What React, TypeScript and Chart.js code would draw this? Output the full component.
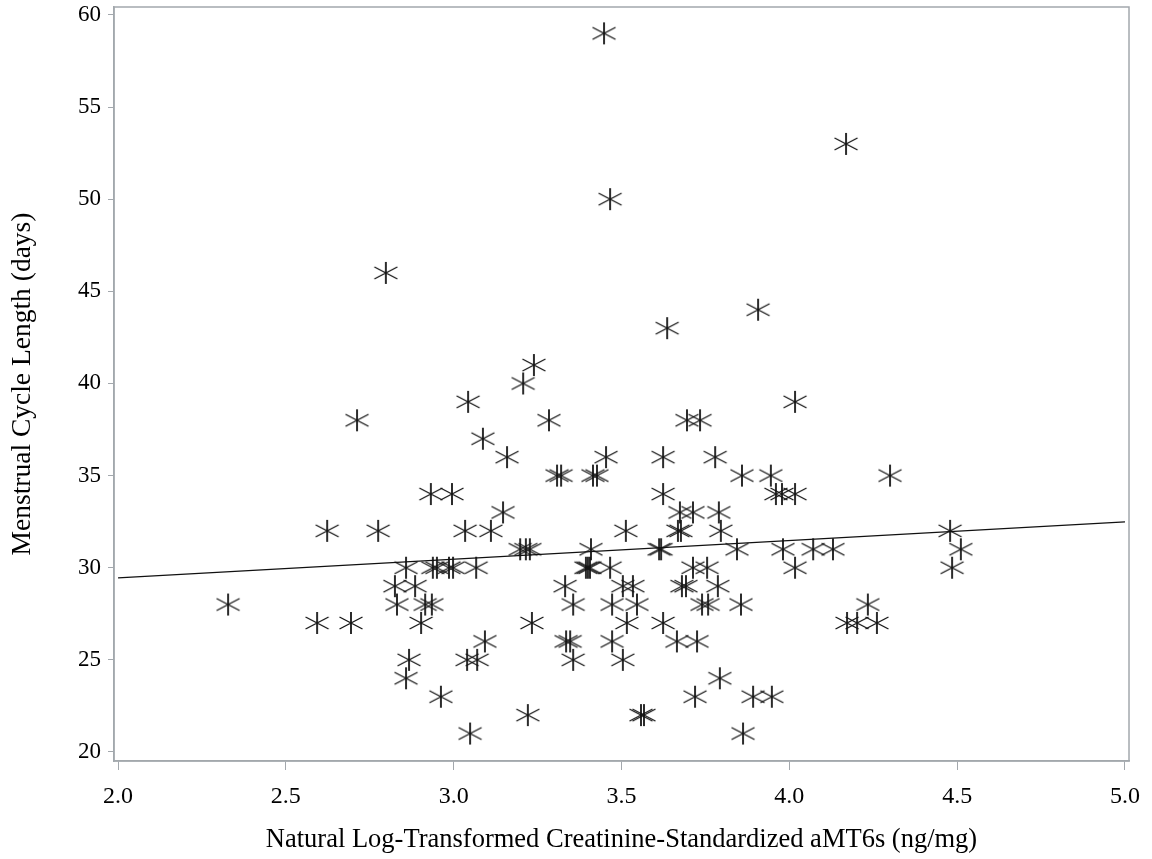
import React, { useEffect, useRef } from 'react';
import { Chart, registerables } from 'chart.js';

Chart.register(...registerables);

// Tick values
const xTickValues = [2.0, 2.5, 3.0, 3.5, 4.0, 4.5, 5.0];
const yTickValues = [20, 25, 30, 35, 40, 45, 50, 55, 60];

// Menstrual cycle length levels (days)
const cycleLengthDays = [59, 53, 50, 46, 44, 43, 41, 40, 39, 38, 37, 36, 35, 34, 33, 32, 31, 30, 29, 28, 27, 26, 25, 24, 23, 22, 21];

// Log aMT6s values observed at each cycle length level (same order as cycleLengthDays)
const logAmt6sByCycle = [
  [3.448],
  [4.169],
  [3.466],
  [2.798],
  [3.907],
  [3.636],
  [3.239],
  [3.207],
  [3.043, 4.017],
  [2.712, 3.284, 3.695, 3.734],
  [3.087],
  [3.159, 3.454, 3.624, 3.779],
  [3.308, 3.320, 3.415, 3.427, 3.859, 3.945, 4.300],
  [2.932, 2.995, 3.624, 3.960, 3.978, 4.017],
  [3.147, 3.674, 3.713, 3.790],
  [2.623, 2.775, 3.034, 3.111, 3.513, 3.668, 3.677, 3.796, 4.479],
  [3.198, 3.215, 3.227, 3.409, 3.612, 3.618, 3.844, 3.981, 4.071, 4.130, 4.511],
  [2.858, 2.938, 2.950, 2.986, 2.998, 3.067, 3.394, 3.400, 3.406, 3.466, 3.713, 3.755, 4.017, 4.485],
  [2.825, 2.885, 3.332, 3.504, 3.534, 3.680, 3.692, 3.787],
  [2.328, 2.831, 2.915, 2.935, 3.356, 3.472, 3.546, 3.740, 3.758, 3.856, 4.234],
  [2.593, 2.694, 2.903, 3.233, 3.516, 3.624, 4.172, 4.202, 4.261],
  [3.093, 3.335, 3.347, 3.472, 3.665, 3.725],
  [2.867, 3.040, 3.070, 3.356, 3.504],
  [2.858, 3.793],
  [2.962, 3.719, 3.892, 3.948],
  [3.221, 3.558, 3.567],
  [3.049, 3.862],
];

// Fitted regression line end points
const fitX = [2.0, 5.0];
const fitY = [29.45, 32.49];

const xTitle = 'Natural Log-Transformed Creatinine-Standardized aMT6s (ng/mg)';
const yTitle = 'Menstrual Cycle Length (days)';

function makeAsterisk(): HTMLCanvasElement {
  const c = document.createElement('canvas');
  c.width = 26;
  c.height = 26;
  const ctx = c.getContext('2d')!;
  const cx = 13, cy = 13;
  ctx.strokeStyle = '#151515';
  ctx.lineCap = 'butt';
  ctx.lineWidth = 1.8;
  ctx.beginPath();
  ctx.moveTo(cx, cy - 11);
  ctx.lineTo(cx, cy + 11);
  ctx.stroke();
  ctx.lineWidth = 1.4;
  ctx.beginPath();
  ctx.moveTo(cx - 11.5, cy - 6);
  ctx.lineTo(cx + 11.5, cy + 6);
  ctx.moveTo(cx - 11.5, cy + 6);
  ctx.lineTo(cx + 11.5, cy - 6);
  ctx.stroke();
  return c;
}

const frameColor = '#a3a8ad';

const framePlugin = {
  id: 'frame',
  afterDraw(chart: any) {
    const { ctx, chartArea } = chart;
    ctx.save();
    ctx.strokeStyle = frameColor;
    ctx.lineWidth = 1.5;
    ctx.strokeRect(chartArea.left, chartArea.top, chartArea.right - chartArea.left, chartArea.bottom - chartArea.top);
    ctx.restore();
  },
};

export default function App() {
  const ref = useRef<HTMLCanvasElement>(null);

  useEffect(() => {
    if (!ref.current) return;
    const family = "'Liberation Serif', 'Times New Roman', serif";
    Chart.defaults.font.family = family;
    const star = makeAsterisk();

    const points: { x: number; y: number }[] = [];
    cycleLengthDays.forEach((days, i) => {
      logAmt6sByCycle[i].forEach((x) => points.push({ x, y: days }));
    });
    const fitLine = fitX.map((x, i) => ({ x, y: fitY[i] }));

    const chart = new Chart(ref.current, {
      type: 'scatter',
      data: {
        datasets: [
          {
            type: 'line',
            data: fitLine,
            borderColor: '#111',
            borderWidth: 1.4,
            pointRadius: 0,
            fill: false,
          } as any,
          {
            data: points,
            pointStyle: star as any,
            pointRadius: 12,
            pointHoverRadius: 12,
          },
        ],
      },
      options: {
        animation: false,
        responsive: false,
        layout: { autoPadding: false, padding: { top: 7, right: 23, left: 0, bottom: 0 } },
        plugins: { legend: { display: false }, tooltip: { enabled: false } },
        scales: {
          x: {
            type: 'linear',
            min: 1.988,
            max: 5.012,
            afterBuildTicks: (s: any) => {
              s.ticks = xTickValues.map((v) => ({ value: v }));
            },
            afterFit: (s: any) => {
              s.height = 98;
              s.paddingLeft = 0;
              s.paddingRight = 0;
            },
            grid: { display: true, drawOnChartArea: false, drawTicks: true, tickLength: 9, color: frameColor },
            border: { display: true, color: frameColor, width: 1.5 },
            ticks: {
              color: '#000',
              font: { size: 24, family },
              padding: 12,
              maxRotation: 0,
              callback: (v: any) => Number(v).toFixed(1),
            },
            title: {
              display: true,
              text: xTitle,
              color: '#000',
              font: { size: 26.5, family },
              padding: { top: 0, bottom: 3 },
            },
          },
          y: {
            type: 'linear',
            min: 19.51,
            max: 60.43,
            afterBuildTicks: (s: any) => {
              s.ticks = yTickValues.map((v) => ({ value: v }));
            },
            afterFit: (s: any) => {
              s.width = 114;
              s.paddingTop = 0;
              s.paddingBottom = 0;
            },
            grid: { display: true, drawOnChartArea: false, drawTicks: true, tickLength: 6, color: frameColor },
            border: { display: true, color: frameColor, width: 1.5 },
            ticks: {
              color: '#000',
              font: { size: 23, family },
              padding: 7,
              callback: (v: any) => String(Math.round(Number(v))),
            },
            title: {
              display: true,
              text: yTitle,
              color: '#000',
              font: { size: 27.5, family },
              padding: { top: 6, bottom: 0 },
            },
          },
        },
      },
      plugins: [framePlugin],
    });

    return () => chart.destroy();
  }, []);

  return (
    <div style={{ position: 'fixed', left: 0, top: 0, width: 1152, height: 859, background: '#fff' }}>
      <canvas ref={ref} width={1152} height={859} />
    </div>
  );
}
